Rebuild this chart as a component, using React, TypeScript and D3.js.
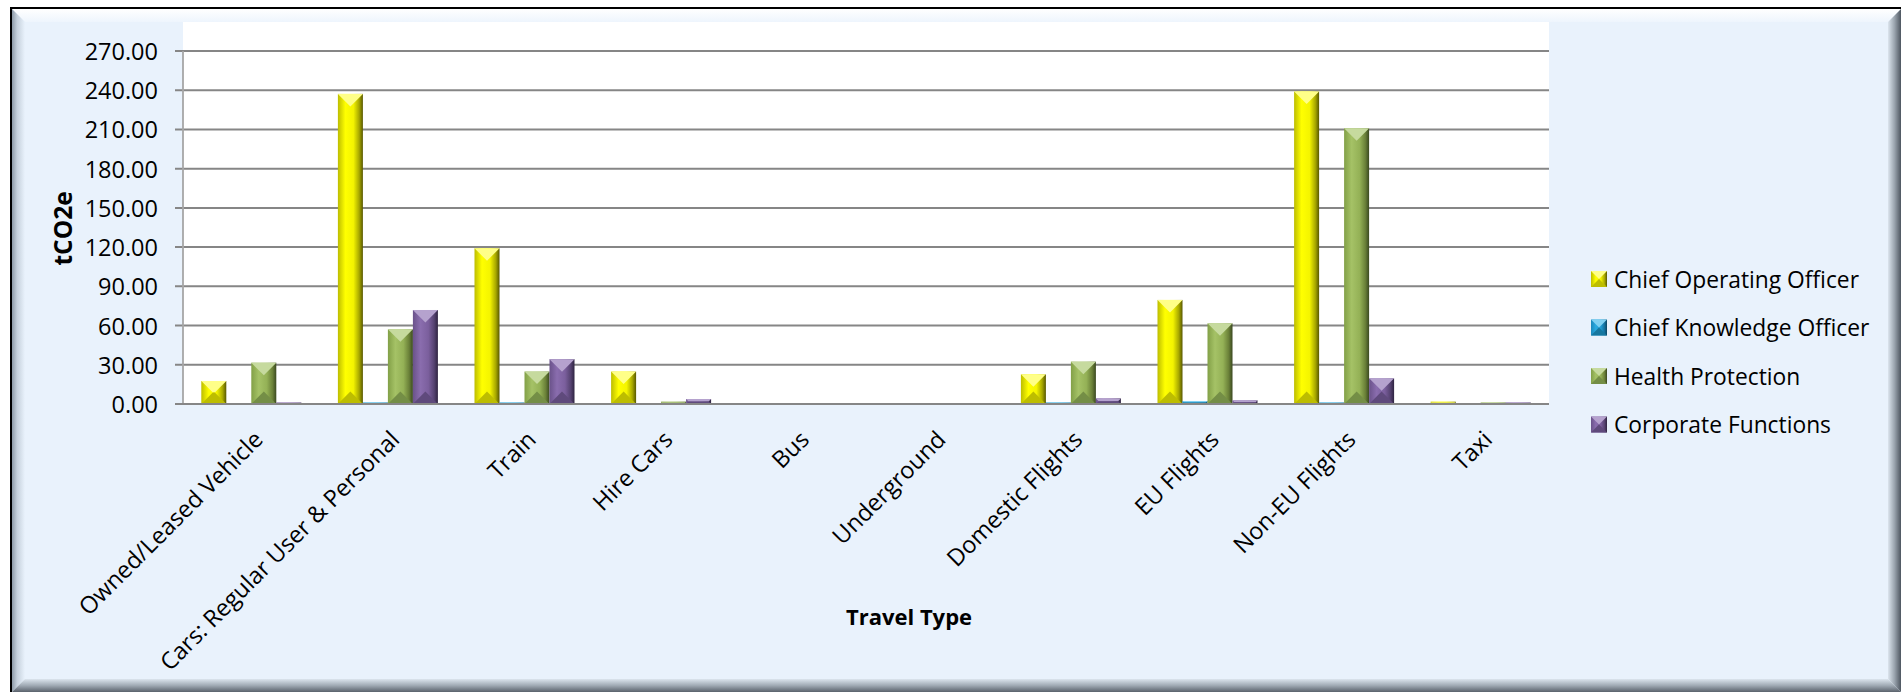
import React from "react";
import * as d3 from "d3";

const categories = [
  "Owned/Leased Vehicle",
  "Cars: Regular User & Personal",
  "Train",
  "Hire Cars",
  "Bus",
  "Underground",
  "Domestic Flights",
  "EU Flights",
  "Non-EU Flights",
  "Taxi",
];
const seriesNames = [
  "Chief Operating Officer",
  "Chief Knowledge Officer",
  "Health Protection",
  "Corporate Functions",
];
const chiefOperatingOfficer = [17.6, 237.2, 119.1, 24.8, 0, 0, 22.7, 79.6, 239.0, 1.8];
const chiefKnowledgeOfficer = [0, 0.3, 0.8, 0, 0, 0, 0.3, 2.3, 0.8, 0];
const healthProtection = [31.6, 57.1, 24.8, 1.8, 0, 0, 32.4, 61.7, 210.9, 0.3];
const corporateFunctions = [0.4, 71.9, 34.3, 3.8, 0, 0, 4.3, 2.8, 19.6, 0.3];
const yTicks = [0, 30, 60, 90, 120, 150, 180, 210, 240, 270];

const seriesValues = [chiefOperatingOfficer, chiefKnowledgeOfficer, healthProtection, corporateFunctions];

const palettes = [
  { stops: ["#BDBD00", "#FFFF00", "#F4F400", "#A8A800", "#585800"], top: "#FFFF88", bottom: "#BDBD00" },
  { stops: ["#1A88BC", "#2AAAE0", "#1E9AD2", "#146F9C", "#0B4462"], top: "#7FD0F2", bottom: "#16779F" },
  { stops: ["#82A047", "#A5C266", "#94B156", "#6A8038", "#3A4820"], top: "#C6DA9E", bottom: "#748E46" },
  { stops: ["#6A528A", "#8A6DAE", "#7B5F9D", "#554270", "#2E2340"], top: "#B5A2CE", bottom: "#5F4A7C" },
];

const W = 1901;
const H = 692;
const plotLeft = 183;
const plotRight = 1549;
const plotTop = 22;
const yTop = 51;
const yBottom = 404;
const font = "'Open Sans', sans-serif";

function Bar({ x, y, w, h, i }: { x: number; y: number; w: number; h: number; i: number }) {
  const p = palettes[i];
  const d = Math.min(w / 2, h / 2);
  return (
    <g>
      <rect x={x} y={y} width={w} height={h} fill={`url(#grad${i})`} />
      <polygon
        points={`${x},${y} ${x + w},${y} ${x + w - d},${y + d} ${x + d},${y + d}`}
        fill={p.top}
      />
      <polygon
        points={`${x},${y + h} ${x + w},${y + h} ${x + w - d},${y + h - d} ${x + d},${y + h - d}`}
        fill={p.bottom}
      />
    </g>
  );
}

export default function App() {
  const x0 = d3.scaleBand<string>().domain(categories).range([plotLeft, plotRight]).paddingInner(0).paddingOuter(0);
  const x1 = d3
    .scaleBand<string>()
    .domain(seriesNames)
    .range([0, x0.bandwidth()])
    .paddingInner(0)
    .paddingOuter(0.732);
  const y = d3.scaleLinear().domain([0, 270]).range([yBottom, yTop]);

  const bev = 13;
  const L = 12, T = 9, R = W, B = H;

  return (
    <div style={{ position: "absolute", left: 0, top: 0 }}>
      <svg width={W} height={H} style={{ display: "block" }}>
        <defs>
          {palettes.map((p, i) => (
            <linearGradient key={i} id={`grad${i}`} x1="0" x2="1" y1="0" y2="0">
              <stop offset="0" stopColor={p.stops[0]} />
              <stop offset="0.3" stopColor={p.stops[1]} />
              <stop offset="0.62" stopColor={p.stops[2]} />
              <stop offset="0.85" stopColor={p.stops[3]} />
              <stop offset="1" stopColor={p.stops[4]} />
            </linearGradient>
          ))}
          <linearGradient id="bevTop" x1="0" x2="0" y1="0" y2="1">
            <stop offset="0" stopColor="#FFFFFF" />
            <stop offset="1" stopColor="#EEF5FD" />
          </linearGradient>
          <linearGradient id="bevLeft" x1="0" x2="1" y1="0" y2="0">
            <stop offset="0" stopColor="#8E9BA8" />
            <stop offset="0.4" stopColor="#C6D1DC" />
            <stop offset="1" stopColor="#E9F2FC" />
          </linearGradient>
          <linearGradient id="bevRight" x1="0" x2="1" y1="0" y2="0">
            <stop offset="0" stopColor="#DCE5EE" />
            <stop offset="0.5" stopColor="#9AA4AE" />
            <stop offset="1" stopColor="#4E5660" />
          </linearGradient>
          <linearGradient id="bevBottom" x1="0" x2="0" y1="0" y2="1">
            <stop offset="0" stopColor="#DCE5EE" />
            <stop offset="0.5" stopColor="#A0AAB4" />
            <stop offset="1" stopColor="#5A626C" />
          </linearGradient>
        </defs>
        <rect x={0} y={0} width={W} height={H} fill="#FFFFFF" />
        {/* frame */}
        <rect x={L} y={T} width={R - L} height={B - T} fill="#E9F2FC" />
        <polygon points={`${L},${T} ${R},${T} ${R - bev},${T + bev} ${L + bev},${T + bev}`} fill="url(#bevTop)" />
        <polygon points={`${L},${T} ${L + bev},${T + bev} ${L + bev},${B - bev} ${L},${B}`} fill="url(#bevLeft)" />
        <polygon points={`${R},${T} ${R},${B} ${R - bev},${B - bev} ${R - bev},${T + bev}`} fill="url(#bevRight)" />
        <polygon points={`${L},${B} ${R},${B} ${R - bev},${B - bev} ${L + bev},${B - bev}`} fill="url(#bevBottom)" />
        <line x1={L - 1} y1={T - 1} x2={W} y2={T - 1} stroke="#000" strokeWidth={2} />
        <line x1={L - 1} y1={T - 2} x2={L - 1} y2={H} stroke="#000" strokeWidth={2} />

        {/* plot area */}
        <rect x={plotLeft} y={plotTop} width={plotRight - plotLeft} height={yBottom - plotTop} fill="#FFFFFF" />
        {yTicks.map((t) => (
          <g key={t}>
            <line x1={plotLeft - 8} x2={plotRight} y1={y(t)} y2={y(t)} stroke="#868686" strokeWidth={2} />
            <text
              x={158}
              y={y(t)}
              textAnchor="end"
              dominantBaseline="central"
              fontFamily={font}
              fontSize={23.5}
              fill="#000"
            >
              {t.toFixed(2)}
            </text>
          </g>
        ))}
        <line x1={plotLeft} x2={plotLeft} y1={yTop} y2={yBottom} stroke="#A6A6A6" strokeWidth={1.8} />

        {/* bars */}
        {categories.map((c, ci) => (
          <g key={c}>
            {seriesNames.map((s, si) => {
              const v = seriesValues[si][ci];
              if (v <= 0) return null;
              const bx = (x0(c) as number) + (x1(s) as number);
              const top = y(v);
              const h = Math.max(yBottom - top, 1.5);
              return <Bar key={s} x={bx} y={yBottom - h} w={x1.bandwidth()} h={h} i={si} />;
            })}
          </g>
        ))}
        <line x1={plotLeft - 8} x2={plotRight} y1={yBottom} y2={yBottom} stroke="#868686" strokeWidth={2} />

        {/* x labels */}
        {categories.map((c) => {
          const cx = (x0(c) as number) + x0.bandwidth() / 2;
          const px = cx + 13;
          const py = 441;
          return (
            <text
              key={c}
              x={px}
              y={py}
              textAnchor="end"
              transform={`rotate(-45 ${px} ${py})`}
              fontFamily={font}
              fontSize={23.5}
              fill="#000"
            >
              {c}
            </text>
          );
        })}

        {/* axis titles */}
        <text
          x={909}
          y={616}
          textAnchor="middle"
          dominantBaseline="central"
          fontFamily={font}
          fontWeight="bold"
          fontSize={22}
          fill="#000"
        >
          Travel Type
        </text>
        <text
          transform={`translate(62, ${(yTop + yBottom) / 2 + 1}) rotate(-90)`}
          textAnchor="middle"
          dominantBaseline="central"
          fontFamily={font}
          fontWeight="bold"
          fontSize={24.5}
          fill="#000"
        >
          tCO2e
        </text>

        {/* legend */}
        {seriesNames.map((s, i) => {
          const cy = 279 + i * 48.5;
          return (
            <g key={s}>
              <Bar x={1591} y={cy - 8} w={16} h={16} i={i} />
              <text x={1614} y={cy} dominantBaseline="central" fontFamily={font} fontSize={22.8} fill="#000">
                {s}
              </text>
            </g>
          );
        })}
      </svg>
    </div>
  );
}
